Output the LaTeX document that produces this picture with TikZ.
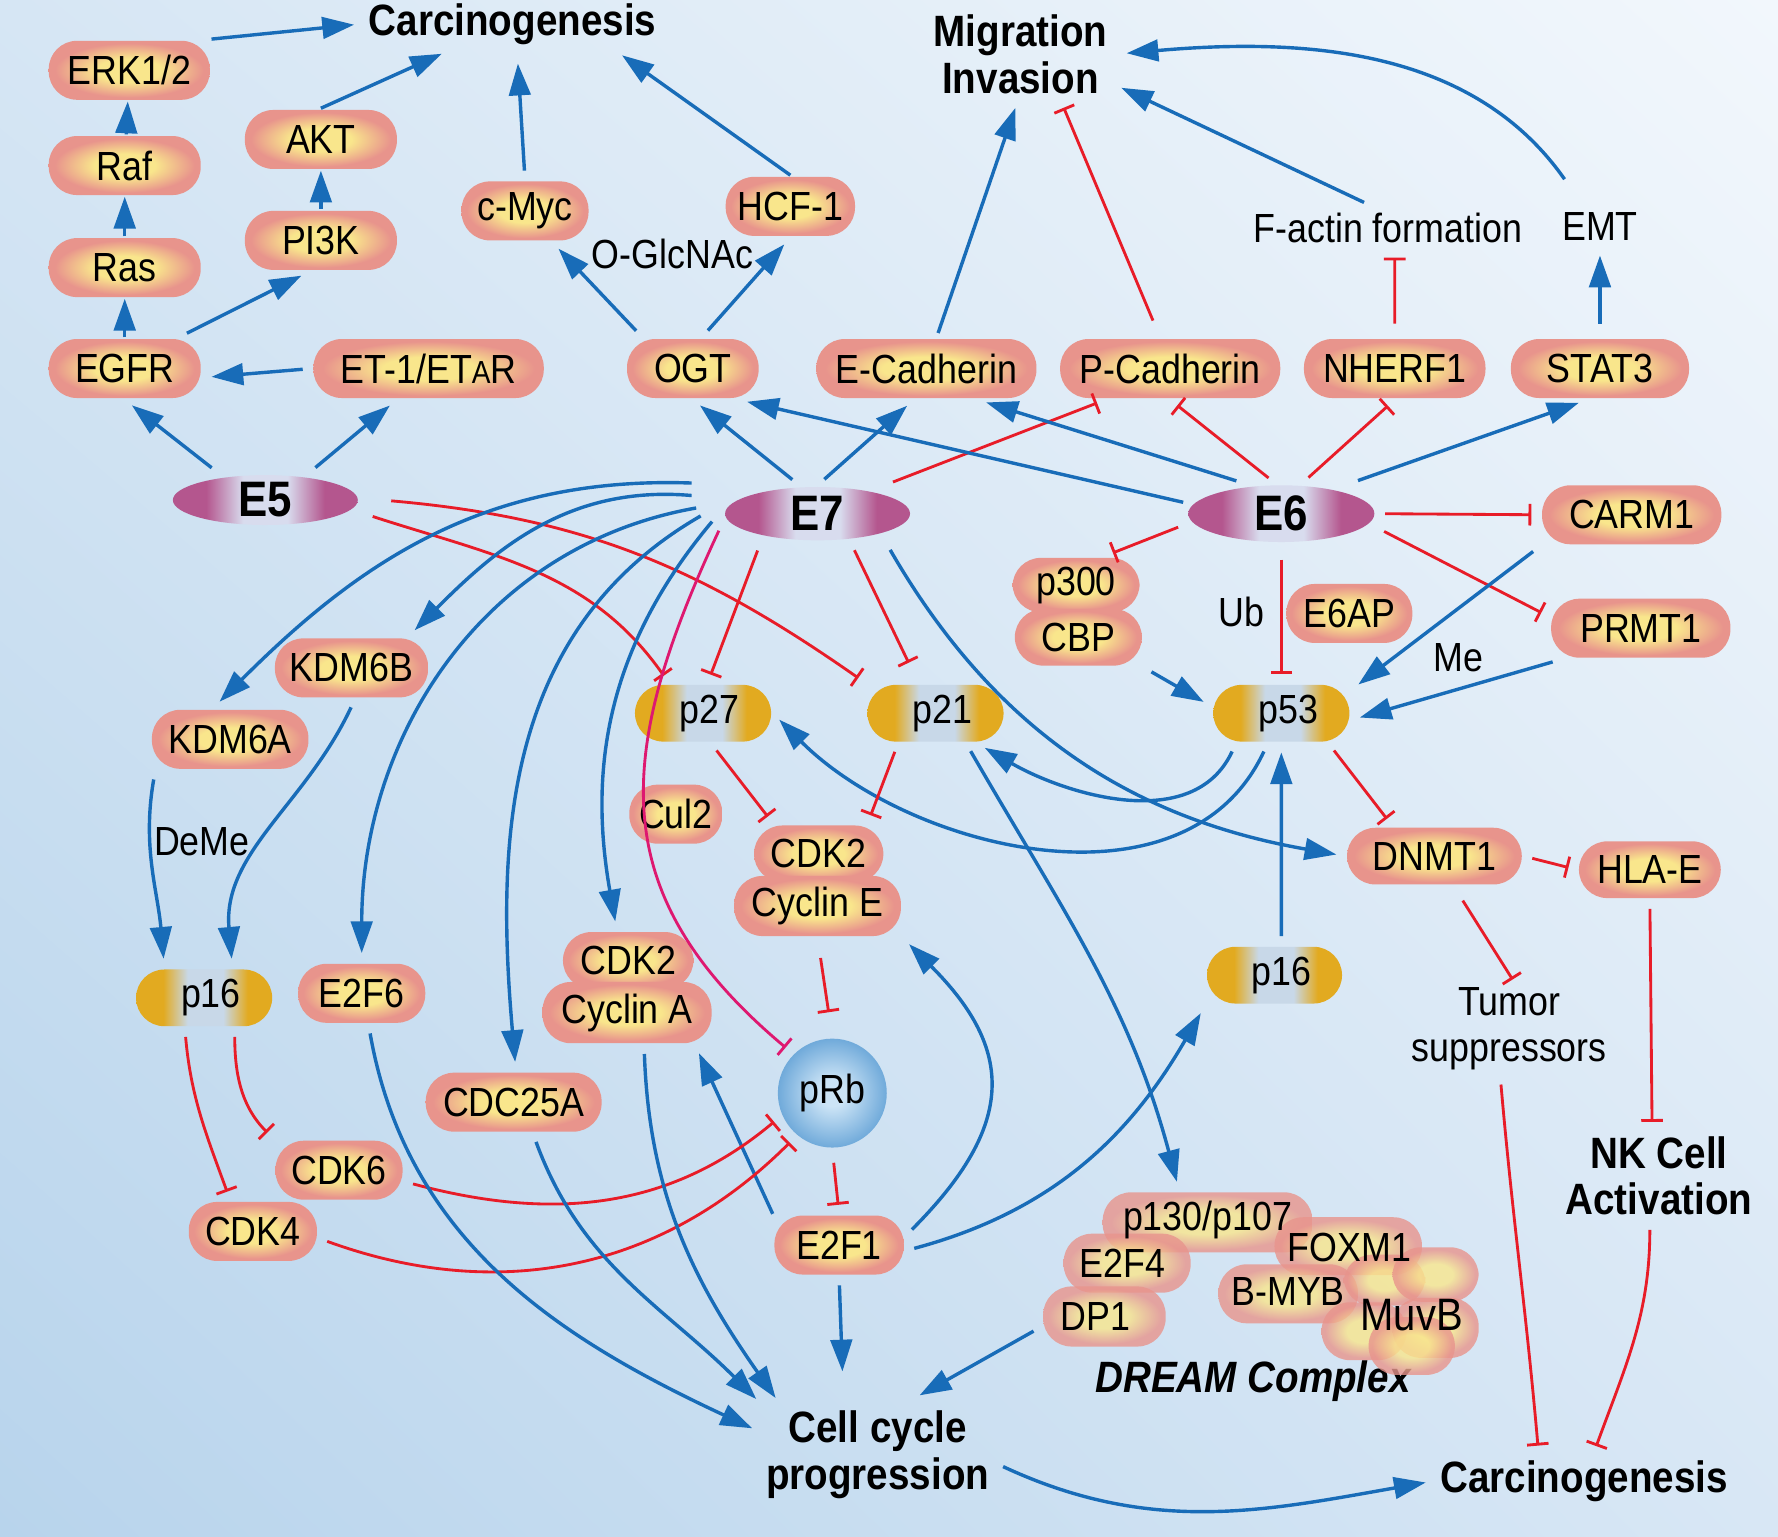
\documentclass[tikz,border=0pt]{standalone}
\usepackage{fontspec}
\setmainfont{Liberation Sans}[FakeStretch=0.88]
\usetikzlibrary{positioning}
\usetikzlibrary{arrows.meta}
\usetikzlibrary{shapes.geometric}
\usetikzlibrary{shadings}

\definecolor{actblue}{RGB}{24,108,184}
\definecolor{inhred}{RGB}{232,28,40}
\definecolor{inhmag}{RGB}{222,24,112}
\definecolor{pillpink}{RGB}{232,148,140}
\definecolor{pillyel}{RGB}{249,230,140}
\definecolor{pgold}{RGB}{226,170,32}
\definecolor{pgray}{RGB}{200,216,232}
\definecolor{virpurp}{RGB}{180,86,142}
\definecolor{virlav}{RGB}{216,220,238}
\definecolor{rbblue}{RGB}{112,170,218}
\definecolor{rblight}{RGB}{204,228,246}
\definecolor{bgUL}{RGB}{214,230,244}
\definecolor{bgUR}{RGB}{242,247,252}
\definecolor{bgLL}{RGB}{184,212,236}
\definecolor{bgLR}{RGB}{216,231,245}

\pgfdeclareradialshading{pillshade}{\pgfpoint{0bp}{0bp}}{color(0bp)=(pillyel); color(10bp)=(pillyel); color(23bp)=(pillpink); color(50bp)=(pillpink)}
\pgfdeclarehorizontalshading{pshade}{100bp}{color(0bp)=(pgold); color(35bp)=(pgold); color(44bp)=(pgray); color(57bp)=(pgray); color(66bp)=(pgold); color(100bp)=(pgold)}
\pgfdeclarehorizontalshading{vshade}{100bp}{color(0bp)=(virpurp); color(34bp)=(virpurp); color(44bp)=(virlav); color(56bp)=(virlav); color(66bp)=(virpurp); color(100bp)=(virpurp)}
\pgfdeclareradialshading{rbshade}{\pgfpoint{0bp}{0bp}}{color(0bp)=(rblight); color(6bp)=(rblight); color(25bp)=(rbblue); color(50bp)=(rbblue)}

\newcommand{\nodesize}{\fontsize{10.2}{11.6}\selectfont}
\newcommand{\headsize}{\fontsize{11}{11.6}\selectfont\bfseries}
\newcommand{\virsize}{\fontsize{12.5}{13}\selectfont\bfseries}

\begin{document}
\begin{tikzpicture}[x=.01cm,y=-.01cm,line width=.03cm]
\tikzstyle{pill}=[shape=rectangle,rounded corners=.25cm,shade,shading=pillshade,inner sep=0pt,minimum height=.52cm,font=\nodesize]
\tikzstyle{ppill}=[shape=rectangle,rounded corners=.25cm,shade,shading=pshade,inner sep=0pt,minimum width=1.2cm,minimum height=.5cm,font=\nodesize,execute at begin node=\hspace*{.12cm}]
\tikzstyle{viral}=[shape=ellipse,shade,shading=vshade,inner sep=0pt,minimum width=1.63cm,minimum height=.47cm,font=\virsize]
\tikzstyle{rbball}=[shape=circle,shade,shading=rbshade,inner sep=0pt,minimum size=.96cm,font=\nodesize]
\tikzstyle{blob}=[pill,fill opacity=.8]
\tikzstyle{lbl}=[inner sep=1pt,font=\nodesize,align=center]
\tikzstyle{head}=[inner sep=1pt,font=\headsize,align=center]
\tikzstyle{act}=[draw=actblue,line width=.03cm,-{Triangle[length=.28cm,width=.19cm]},shorten <=.08cm,shorten >=.08cm]
\tikzstyle{inh}=[draw=inhred,line width=.025cm,-{Bar[width=.19cm]},shorten <=.08cm,shorten >=.08cm]

% background
\useasboundingbox (0,0) rectangle (1568,1355);
\shade[upper left=bgUL,upper right=bgUR,lower left=bgLL,lower right=bgLR] (0,0) rectangle (1568,1355);

% titles and free labels
\draw (452,21) node[head] (carcT) {Carcinogenesis}; % top
\draw (900,48) node[head] (migr) {Migration\\Invasion};
\draw (1224,201) node[lbl] (factin) {F-actin formation};
\draw (1411,200) node[lbl] (emt) {EMT};
\draw (593,224) node[lbl] (glcnac) {O-GlcNAc};
\draw (1095,540) node[lbl] (ub) {Ub};
\draw (1286,580) node[lbl] (me) {Me};
\draw (178,742) node[lbl] (deme) {DeMe};
\draw (1331,907) node[lbl] (tumor) {Tumor\\suppressors};
\draw (1463,1037) node[head] (nk) {NK Cell\\Activation};
\draw (774,1283) node[head] (ccp) {Cell cycle\\progression};
\draw (1397,1306) node[head] (carcB) {Carcinogenesis}; % bottom
\draw (1105,1218) node[head,font=\headsize\itshape] (dreamlbl) {DREAM Complex};

% upper left cascade
\draw (114,62) node[pill,minimum width=1.42cm] (erk) {ERK1/2}; % ERK1/2
\draw (110,146) node[pill,minimum width=1.34cm] (raf) {Raf}; % Raf
\draw (110,236) node[pill,minimum width=1.34cm] (ras) {Ras}; % Ras
\draw (110,325) node[pill,minimum width=1.34cm] (egfr) {EGFR}; % EGFR
\draw (283,123) node[pill,minimum width=1.34cm] (akt) {AKT}; % AKT
\draw (283,212) node[pill,minimum width=1.34cm] (pik) {PI3K}; % PI3K
\draw (378,325) node[pill,minimum width=2.03cm] (etar) {ET-1/ET{\footnotesize A}R}; % ET-1/ETaR
\draw (463,186) node[pill,minimum width=1.12cm] (cmyc) {c-Myc}; % c-Myc
\draw (697,182) node[pill,minimum width=1.14cm] (hcf) {HCF-1}; % HCF-1

% middle row
\draw (611,325) node[pill,minimum width=1.16cm] (ogt) {OGT}; % OGT
\draw (817,325) node[pill,minimum width=1.94cm] (ecad) {E-Cadherin}; % E-Cadherin
\draw (1032,325) node[pill,minimum width=1.94cm] (pcad) {P-Cadherin}; % P-Cadherin
\draw (1230,325) node[pill,minimum width=1.6cm] (nherf) {NHERF1}; % NHERF1
\draw (1411,325) node[pill,minimum width=1.57cm] (stat) {STAT3}; % STAT3

% viral oncoproteins
\draw (234,441) node[viral,minimum height=.44cm] (e5) {E5}; % E5
\draw (721,453) node[viral] (e7) {E7}; % E7
\draw (1130,453) node[viral,minimum width=1.64cm,minimum height=.5cm] (e6) {E6}; % E6

% right of E6
\draw (1439,454) node[pill,minimum width=1.58cm] (carm) {CARM1}; % CARM1
\draw (1447,554) node[pill,minimum width=1.58cm] (prmt) {PRMT1}; % PRMT1
\draw (949,516) node[pill,minimum width=1.12cm,minimum height=.48cm] (p300) {p300}; % p300
\draw (951,562) node[pill,minimum width=1.12cm,minimum height=.5cm] (cbp) {CBP}; % CBP
\draw (1190,541) node[pill,minimum width=1.11cm] (e6ap) {E6AP}; % E6AP

% CKIs and p53
\draw (1130,629) node[ppill] (p53) {p53}; % p53
\draw (825,629) node[ppill] (p21) {p21}; % p21
\draw (620,629) node[ppill] (p27) {p27}; % p27
\draw (180,880) node[ppill] (p16a) {p16}; % p16 left
\draw (1124,860) node[ppill,minimum width=1.19cm] (p16b) {p16}; % p16 right

% left side
\draw (310,589) node[pill,minimum width=1.35cm] (kdmb) {KDM6B}; % KDM6B
\draw (203,652) node[pill,minimum width=1.38cm] (kdma) {KDM6A}; % KDM6A
\draw (319,876) node[pill,minimum width=1.12cm] (e2f6) {E2F6}; % E2F6
\draw (453,972) node[pill,minimum width=1.55cm] (cdc) {CDC25A}; % CDC25A
\draw (299,1032) node[pill,minimum width=1.12cm] (cdk6) {CDK6}; % CDK6
\draw (223,1086) node[pill,minimum width=1.13cm] (cdk4) {CDK4}; % CDK4

% centre
\draw (596,718) node[pill,minimum width=.82cm] (cul) {Cul2}; % Cul2
\draw (722,753) node[pill,minimum width=1.14cm,minimum height=.5cm] (cdke) {CDK2}; % CDK2 (E)
\draw (721,799) node[pill,minimum width=1.47cm,minimum height=.53cm] (cyce) {Cyclin E}; % Cyclin E
\draw (554,847) node[pill,minimum width=1.15cm,minimum height=.5cm] (cdka) {CDK2}; % CDK2 (A)
\draw (553,893) node[pill,minimum width=1.49cm,minimum height=.54cm] (cyca) {Cyclin A}; % Cyclin A
\draw (734,964) node[rbball] (prb) {pRb}; % pRb
\draw (740,1098) node[pill,minimum width=1.14cm] (e2f1) {E2F1}; % E2F1

% right side
\draw (1265,755) node[pill,minimum width=1.54cm,minimum height=.5cm] (dnmt) {DNMT1}; % DNMT1
\draw (1455,767) node[pill,minimum width=1.25cm,minimum height=.5cm] (hla) {HLA-E}; % HLA-E

% DREAM complex (shapes first, text on top)
\draw (1065,1078) node[blob,minimum width=1.85cm,minimum height=.53cm] (p130) {}; % p130/p107
\draw (994,1114) node[blob,minimum width=1.12cm,minimum height=.52cm] (e2f4) {}; % E2F4
\draw (974,1161) node[blob,minimum width=1.08cm,minimum height=.53cm] (dp1) {}; % DP1
\draw (1189,1099) node[blob,minimum width=1.3cm,minimum height=.51cm] (foxm) {}; % FOXM1
\draw (1136,1141) node[blob,minimum width=1.23cm,minimum height=.52cm] (bmyb) {}; % B-MYB
\draw (1221,1129) node[blob,minimum width=.72cm,minimum height=.45cm] (muva) {};
\draw (1266,1124) node[blob,minimum width=.76cm,minimum height=.48cm] (muvb) {};
\draw (1203,1174) node[blob,minimum width=.75cm,minimum height=.51cm] (muvc) {};
\draw (1266,1171) node[blob,minimum width=.76cm,minimum height=.53cm] (muvd) {};
\draw (1245,1187) node[blob,minimum width=.76cm,minimum height=.51cm] (muve) {};
\draw (1065,1076) node[lbl] (p130t) {p130/p107};
\draw (990,1114) node[lbl] (e2f4t) {E2F4};
\draw (966,1161) node[lbl] (dp1t) {DP1};
\draw (1190,1100) node[lbl] (foxmt) {FOXM1};
\draw (1136,1139) node[lbl] (bmybt) {B-MYB};
\draw (1245,1160) node[lbl,font=\fontsize{11.4}{12}\selectfont] (muvt) {MuvB};

% cascade arrows
\draw[act,shorten <=0pt,shorten >=0pt] (raf) -- (erk);
\draw[act,shorten <=0pt,shorten >=0pt] (ras) -- (raf);
\draw[act,shorten <=0pt,shorten >=0pt] (egfr) -- (ras);
\draw[act,shorten <=0pt,shorten >=0pt] (pik) -- (akt);
\draw[act,shorten <=0pt] (erk.north east) -- (carcT.west);
\draw[act] (egfr.30) -- (pik.250);
\draw[act,shorten <=0pt] (akt.north) -- ([xshift=-.55cm]carcT.south);
\draw[act] (etar.west) -- ([yshift=-.08cm]egfr.east);
\draw[act,shorten >=.12cm] (cmyc.north) -- ([xshift=.04cm]carcT.south);
\draw[act,shorten <=0pt] (hcf.north) -- ([xshift=.9cm]carcT.south);
\draw[act] ([xshift=.15cm]ogt.north west) -- ([xshift=.24cm]cmyc.south);
\draw[act] ([xshift=.08cm]ogt.north) -- (hcf.south);

% E5 targets
\draw[act] ([xshift=-.41cm]e5.north) -- (egfr.south);
\draw[act] ([xshift=.38cm]e5.north) -- ([xshift=-.28cm]etar.south);
\draw[inh] ([xshift=.04cm,yshift=-.12cm]e5.east) to[out=-18,in=125] ([xshift=-.3cm]p27.north);
\draw[inh] ([xshift=.2cm]e5.east) to[out=-5,in=145] (p21.north west);

% E7 targets
\draw[act] ([xshift=-.16cm]e7.north) -- (ogt.south);
\draw[act] (e7.north) -- ([xshift=-.11cm]ecad.south);
\draw[inh] ([xshift=.59cm]e7.north) -- ([xshift=-.57cm]pcad.south);
\draw[act,shorten <=0pt] ([xshift=-.28cm,yshift=.27cm]e7.west) to[out=178,in=45] ([xshift=-.15cm]kdma.north);
\draw[act,shorten <=0pt] ([xshift=-.28cm,yshift=.16cm]e7.west) to[out=175,in=45] ([xshift=.5cm]kdmb.north);
\draw[act,shorten <=0pt] ([xshift=-.24cm,yshift=.05cm]e7.west) to[out=190,in=90] (e2f6.north);
\draw[act,shorten <=0pt] ([xshift=-.2cm,yshift=-.02cm]e7.west) to[out=-150,in=95] ([xshift=.02cm]cdc.north);
\draw[act,shorten <=0pt] ([xshift=-.1cm,yshift=-.07cm]e7.west) to[out=-130,in=100] ([xshift=-.1cm]cdka.north);
\draw[inh,draw=inhmag,shorten <=0pt] ([xshift=-.04cm,yshift=-.15cm]e7.west) to[out=-115,in=140,looseness=1.2] (prb.135);
\draw[inh] ([xshift=-.5cm]e7.south) -- ([xshift=.04cm]p27.north);
\draw[inh,shorten >=.2cm] ([xshift=.29cm]e7.south) -- ([xshift=-.15cm]p21.north);
\draw[act] ([xshift=.6cm]e7.south) to[out=-60,in=170] (dnmt.west);

% E6 targets
\draw[act,shorten <=0pt] ([xshift=-.03cm,yshift=.1cm]e6.west) -- ([xshift=.4cm]ogt.south);
\draw[act] ([xshift=-.32cm]e6.north) -- ([xshift=.45cm]ecad.south);
\draw[inh] ([xshift=-.05cm]e6.north) -- (pcad.south);
\draw[inh] ([xshift=.18cm]e6.north) -- (nherf.south);
\draw[act] ([xshift=.6cm]e6.north) -- ([xshift=-.11cm]stat.south);
\draw[inh] (e6.east) -- (carm.west);
\draw[inh] ([yshift=-.12cm]e6.east) -- ([yshift=.1cm]prmt.west);
\draw[inh] ([yshift=-.09cm]e6.west) -- ([xshift=.25cm]p300.north);
\draw[inh,shorten <=.14cm] (e6.south) -- (p53.north);

% migration and invasion
\draw[act,shorten <=.04cm] ([xshift=.09cm]ecad.north) -- ([xshift=-.02cm]migr.south);
\draw[inh,shorten <=.16cm] ([xshift=-.09cm]pcad.north) -- ([xshift=.35cm]migr.south);
\draw[inh,shorten <=.12cm] (nherf.north) -- ([xshift=.06cm]factin.south);
\draw[act,shorten <=.12cm] (stat.north) -- (emt.south);
\draw[act,shorten <=.1cm] ([xshift=-.12cm]factin.north) -- ([yshift=-.26cm]migr.east);
\draw[act,shorten <=.3cm,shorten >=.12cm] ([xshift=-.14cm]emt.north) to[out=125,in=5] (migr.east);

% p53 node
\draw[act] (carm.south west) -- ([yshift=-.06cm]p53.north east);
\draw[act] ([xshift=-.7cm]prmt.south) -- ([yshift=-.06cm]p53.east);
\draw[act] (cbp.south east) -- ([yshift=.06cm]p53.west);
\draw[act] ([xshift=.06cm]p16b.north) -- (p53.south);
\draw[act] ([xshift=-.4cm]p53.south) to[out=-115,in=-30] ([xshift=-.25cm]p21.south east);
\draw[act] ([xshift=-.12cm]p53.south) to[out=-115,in=-45] (p27.east);
\draw[inh] ([xshift=-.2cm]p53.south east) -- ([xshift=-.37cm]dnmt.north);
\draw[inh] (dnmt.east) -- (hla.west);
\draw[inh,shorten <=.15cm,shorten >=.02cm] ([xshift=.17cm]dnmt.south) -- ([xshift=.04cm]tumor.north);
\draw[inh] (hla.south) -- ([xshift=-.06cm]nk.north);
\draw[inh] ([xshift=-.08cm]tumor.south) to[out=-85,in=95] ([xshift=-.4cm]carcB.north);
\draw[inh] ([xshift=-.08cm]nk.south) to[out=-90,in=70] ([xshift=.08cm]carcB.north);

% cell cycle
\draw[inh] ([xshift=.07cm]p27.south) -- ([xshift=-.4cm]cdke.north);
\draw[inh] ([xshift=-.33cm]p21.south) -- ([xshift=.43cm]cdke.north);
\draw[inh,shorten <=.18cm,shorten >=.22cm] (cyce.south) -- (prb.north);
\draw[inh,shorten <=.12cm,shorten >=.08cm] (prb.south) -- (e2f1.north);
\draw[act] ([xshift=.27cm]p21.south) to[out=-60,in=105] ([xshift=-.25cm]p130.north);
\draw[act] ([yshift=-.05cm]e2f1.east) to[out=15,in=-120] (p16b.south west);
\draw[act] ([yshift=.08cm]e2f1.east) to[out=45,in=-45,looseness=1.35] (cyce.south east);
\draw[act,shorten <=0pt] (e2f1.north west) -- ([xshift=.6cm]cyca.south);
\draw[act,shorten >=.3cm] (e2f1.south) -- ([xshift=-.3cm]ccp.north);
\draw[act] ([yshift=-.09cm]dp1.west) -- ([xshift=.3cm,yshift=.05cm]ccp.north);
\draw[inh] ([yshift=-.1cm]cdk6.east) to[out=-15,in=-140] (prb.204);
\draw[inh] ([yshift=-.06cm]cdk4.east) to[out=-20,in=-135] (prb.230);
\draw[inh] ([xshift=.27cm]p16a.south) to[out=-90,in=135] (cdk6.north west);
\draw[inh] ([xshift=-.17cm]p16a.south) to[out=-85,in=110] ([xshift=-.2cm]cdk4.north);
\draw[act] ([xshift=-.66cm]kdma.south) to[out=-100,in=95] ([xshift=-.35cm]p16a.north);
\draw[act] ([xshift=.03cm]kdmb.south) to[out=-115,in=95] ([xshift=.25cm]p16a.north);
\draw[act] ([xshift=.06cm]e2f6.south) to[out=-80,in=155] ([yshift=.2cm]ccp.west);
\draw[act] ([xshift=.17cm]cdc.south) to[out=-70,in=135] ([xshift=.02cm]ccp.north west);
\draw[act] ([xshift=.15cm]cyca.south) to[out=-88,in=125] ([xshift=.18cm]ccp.north west);
\draw[act] ([yshift=-.07cm]ccp.east) to[out=-25,in=190] (carcB.west);
\end{tikzpicture}
\end{document}
